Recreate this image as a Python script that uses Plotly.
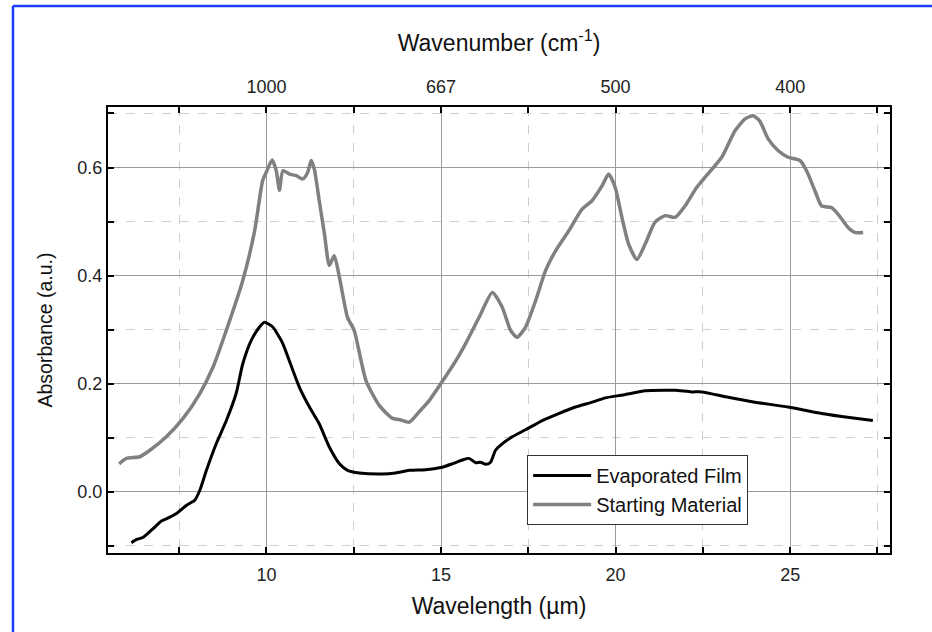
import plotly.graph_objects as go

# Starting Material (grey)
sm_x = [5.78, 5.99, 6.37, 6.66, 7.13, 7.61, 8.09, 8.47, 8.85, 9.32, 9.66, 9.89, 9.99, 10.16, 10.28, 10.37,
        10.47, 10.66, 10.85, 11.04, 11.18, 11.28, 11.37, 11.51, 11.66, 11.8, 11.94, 12.09, 12.32, 12.51,
        12.85, 13.23, 13.61, 13.8, 14.09, 14.37, 14.66, 14.99, 15.37, 15.7, 16.09, 16.47, 16.75, 16.99,
        17.18, 17.42, 17.71, 17.99, 18.28, 18.66, 19.04, 19.33, 19.61, 19.8, 19.99, 20.18, 20.37, 20.61,
        20.85, 21.13, 21.42, 21.71, 21.99, 22.32, 22.56, 23.04, 23.42, 23.71, 23.94, 24.13, 24.37, 24.66,
        24.94, 25.28, 25.47, 25.71, 25.9, 26.18, 26.37, 26.66, 26.85, 27.09]
sm_y = [0.052, 0.062, 0.065, 0.077, 0.102, 0.136, 0.182, 0.231, 0.299, 0.391, 0.483, 0.576, 0.591, 0.614,
        0.594, 0.558, 0.594, 0.588, 0.585, 0.579, 0.591, 0.613, 0.597, 0.539, 0.477, 0.419, 0.437, 0.397,
        0.323, 0.299, 0.206, 0.160, 0.136, 0.134, 0.129, 0.148, 0.169, 0.200, 0.237, 0.274, 0.323, 0.369,
        0.342, 0.299, 0.286, 0.305, 0.354, 0.409, 0.446, 0.483, 0.523, 0.539, 0.566, 0.588, 0.563, 0.508,
        0.459, 0.430, 0.459, 0.499, 0.511, 0.508, 0.529, 0.563, 0.582, 0.619, 0.668, 0.690, 0.696, 0.686,
        0.653, 0.631, 0.619, 0.613, 0.594, 0.557, 0.529, 0.526, 0.514, 0.489, 0.480, 0.480]

# Evaporated Film (black)
ef_x = [6.13, 6.28, 6.47, 6.75, 6.99, 7.13, 7.42, 7.7, 7.95, 8.09, 8.28, 8.56, 8.85, 9.13, 9.32, 9.56,
        9.8, 9.94, 10.18, 10.37, 10.47, 10.94, 11.23, 11.51, 11.8, 12.09, 12.32, 12.66, 13.32, 13.7,
        14.09, 14.56, 14.99, 15.32, 15.61, 15.8, 15.99, 16.13, 16.28, 16.42, 16.56, 16.75, 17.04, 17.42,
        17.9, 18.37, 18.85, 19.33, 19.71, 20.28, 20.85, 21.42, 21.71, 22.18, 22.47, 23.23, 23.99, 24.94,
        25.9, 26.75, 27.37]
ef_y = [-0.094, -0.088, -0.084, -0.068, -0.054, -0.050, -0.040, -0.025, -0.015, 0.003, 0.040, 0.089,
        0.132, 0.182, 0.237, 0.280, 0.305, 0.314, 0.305, 0.286, 0.274, 0.194, 0.157, 0.126, 0.083, 0.052,
        0.040, 0.035, 0.033, 0.035, 0.040, 0.041, 0.045, 0.052, 0.059, 0.062, 0.054, 0.055, 0.051, 0.055,
        0.077, 0.089, 0.102, 0.115, 0.132, 0.145, 0.157, 0.166, 0.174, 0.180, 0.187, 0.188, 0.188, 0.185,
        0.185, 0.175, 0.166, 0.157, 0.145, 0.137, 0.132]

x_major = [10, 15, 20, 25]
x_minor = [7.5, 12.5, 17.5, 22.5, 27.5]
top_labels = ["1000", "667", "500", "400"]
y_major = [0.0, 0.2, 0.4, 0.6]
y_minor = [-0.1, 0.1, 0.3, 0.5, 0.7]

FONT = "Liberation Sans, Arial, sans-serif"
TICK = dict(ticks="inside", ticklen=6, tickwidth=2, tickcolor="black")
TF = dict(size=18, color="#222")

fig = go.Figure()
fig.add_trace(go.Scatter(x=ef_x, y=ef_y, mode="lines", name="Evaporated Film",
                         line=dict(color="black", width=3, shape="spline", smoothing=0.6)))
fig.add_trace(go.Scatter(x=sm_x, y=sm_y, mode="lines", name="Starting Material",
                         line=dict(color="#808080", width=3.5, shape="spline", smoothing=0.6)))
fig.add_trace(go.Scatter(x=[10], y=[0], xaxis="x2", mode="markers", marker=dict(opacity=0),
                         showlegend=False, hoverinfo="skip"))

xr = [5.46, 27.86]
fig.update_layout(
    width=932, height=632,
    paper_bgcolor="white", plot_bgcolor="white",
    margin=dict(l=108, r=42, t=107, b=79),
    font=dict(family=FONT, size=18, color="#222"),
    xaxis=dict(
        range=xr, tickvals=x_major, **TICK, ticklabelstandoff=4,
        showline=True, linecolor="black", linewidth=2, mirror=True,
        showgrid=True, gridcolor="#9a9a9a", gridwidth=1,
        minor=dict(tickvals=x_minor, **TICK,
                   showgrid=True, gridcolor="#cfcfcf", griddash="dash", gridwidth=1),
        zeroline=False,
        title=dict(text="Wavelength (µm)", font=dict(size=23, color="#111"), standoff=14),
        tickfont=TF,
    ),
    xaxis2=dict(
        range=xr, overlaying="x", side="top", tickvals=x_major, ticktext=top_labels,
        **TICK, ticklabelstandoff=9,
        minor=dict(tickvals=x_minor, **TICK, showgrid=False),
        showgrid=False, zeroline=False,
        title=dict(text="Wavenumber (cm<sup>-1</sup>)", font=dict(size=23, color="#111"), standoff=19),
        tickfont=TF,
    ),
    yaxis=dict(
        range=[-0.113, 0.712], tickvals=y_major, tickformat=".1f", **TICK,
        showline=True, linecolor="black", linewidth=2, mirror="ticks",
        showgrid=True, gridcolor="#9a9a9a", gridwidth=1,
        minor=dict(tickvals=y_minor, **TICK,
                   showgrid=True, gridcolor="#cfcfcf", griddash="dash", gridwidth=1),
        zeroline=False,
        title=dict(text="Absorbance (a.u.)", font=dict(size=19.5, color="#111"), standoff=20),
        tickfont=TF,
    ),
    legend=dict(x=0.536, y=0.2197, xanchor="left", yanchor="top",
                bgcolor="white", bordercolor="#333", borderwidth=1,
                font=dict(size=20, color="#111"), tracegroupgap=0, itemwidth=58),
    showlegend=True,
)

# blue frame lines around the figure image
fig.add_shape(type="line", xref="paper", yref="paper", x0=-0.1215, x1=1.06, y0=1.2265, y1=1.2265,
              line=dict(color="#1a3cff", width=2.5))
fig.add_shape(type="line", xref="paper", yref="paper", x0=-0.1215, x1=-0.1215, y0=-0.2, y1=1.2265,
              line=dict(color="#1a3cff", width=2.5))

fig.write_html("out.html", config={"displayModeBar": False},
               post_script="document.body.style.margin='0';document.body.style.overflow='hidden';")
